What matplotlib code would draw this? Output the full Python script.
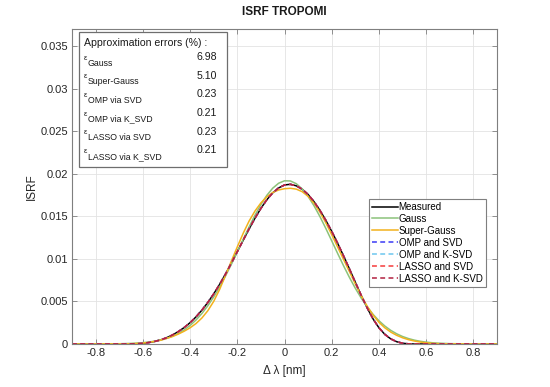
import numpy as np
import matplotlib
matplotlib.use('Agg')
import matplotlib.pyplot as plt
from matplotlib.patches import Rectangle

plt.rcParams['font.family'] = ['Liberation Sans', 'DejaVu Sans']
plt.rcParams['axes.unicode_minus'] = False

# wavelength offset grid [nm]: coarse in the far wings, 0.025 nm in the core
dlam = np.concatenate(([-0.9, -0.8, -0.7], np.linspace(-0.65, 0.65, 53), [0.7, 0.8, 0.9]))

# ISRF values in units of 1e-5
measured = [0, 0, 0,
            1, 3, 8, 17, 30, 48, 73, 105, 145, 193, 250, 318, 397, 487, 588,
            699, 821, 950, 1084, 1219, 1352, 1478, 1593, 1694, 1775, 1833, 1868,
            1876, 1858, 1818, 1756, 1672, 1570, 1453, 1323, 1183, 1035, 882,
            725, 570, 425, 295, 190, 113, 60, 27, 9, 2, 0, 0, 0, 0, 0,
            0, 0, 0]
gauss = [0.04, 0.4, 2.9,
         6.9, 10.5, 15.6, 23.0, 33.3, 47.4, 66.4, 91.5, 124.1, 165.7, 217.7,
         281.4, 358.0, 448.1, 552.1, 669.1, 798.2, 936.7, 1081.8, 1229.4,
         1374.8, 1512.8, 1638.1, 1745.5, 1830.0, 1888.2, 1917.0,
         1915.2, 1882.7, 1821.3, 1733.7, 1623.9, 1496.9, 1357.6, 1211.7,
         1064.2, 919.6, 782.0, 654.4, 538.9, 436.7, 348.2, 273.2, 210.9,
         160.2, 119.8, 88.1, 63.8, 45.4, 31.9, 22.0, 14.9, 10.0,
         4.2, 0.6, 0.1]
super_gauss = [0, 0, 1,
               3, 6, 11, 19, 30, 44, 64, 87, 116, 150, 190, 240, 305, 390, 500,
               640, 805, 975, 1140, 1300, 1444, 1562, 1657, 1729, 1779, 1809, 1824,
               1829, 1819, 1789, 1734, 1654, 1549, 1424, 1284, 1139, 994, 850,
               705, 568, 445, 340, 255, 190, 140, 102, 73, 51, 35, 23, 14, 8, 4,
               1, 0, 0]
omp_svd = [0, 0, 0,
           1, 3, 8, 17, 30, 48, 73, 105, 145, 193, 250, 318, 397, 487, 588,
           699, 821, 950, 1084, 1219, 1352, 1478, 1593, 1694, 1775, 1833, 1867,
           1875, 1858, 1818, 1756, 1672, 1570, 1453, 1323, 1183, 1035, 882,
           725, 570, 425, 295, 190, 113, 60, 27, 9, 2, 0, 0, 0, 0, 0,
           0, 0, 0]
omp_ksvd = [0, 0, 0,
            1, 3, 8, 17, 30, 48, 73, 105, 145, 193, 250, 318, 397, 487, 588,
            699, 821, 950, 1084, 1219, 1352, 1478, 1593, 1694, 1775, 1833, 1868,
            1876, 1858, 1818, 1756, 1672, 1570, 1453, 1323, 1183, 1035, 882,
            725, 570, 425, 295, 190, 113, 60, 27, 9, 2, 0, 0, 0, 0, 0,
            0, 0, 0]
lasso_svd = [0, 0, 0,
             1, 3, 8, 17, 30, 48, 73, 105, 145, 193, 250, 318, 397, 487, 588,
             699, 821, 950, 1084, 1219, 1352, 1478, 1593, 1694, 1775, 1833, 1867,
             1875, 1858, 1818, 1756, 1672, 1570, 1453, 1323, 1183, 1035, 882,
             725, 570, 425, 295, 190, 113, 60, 27, 9, 2, 0, 0, 0, 0, 0,
             0, 0, 0]
lasso_ksvd = [0, 0, 0,
              1, 3, 8, 17, 30, 48, 73, 105, 145, 193, 250, 318, 397, 487, 588,
              699, 821, 950, 1084, 1219, 1352, 1478, 1593, 1694, 1775, 1833, 1868,
              1876, 1858, 1818, 1756, 1672, 1570, 1453, 1323, 1183, 1035, 882,
              725, 570, 425, 295, 190, 113, 60, 27, 9, 2, 0, 0, 0, 0, 0,
              0, 0, 0]

err_names = ['Gauss', 'Super-Gauss', 'OMP via SVD', 'OMP via K_SVD',
             'LASSO via SVD', 'LASSO via K_SVD']
err_values = ['6.98', '5.10', '0.23', '0.21', '0.23', '0.21']

xticks = [-0.8, -0.6, -0.4, -0.2, 0, 0.2, 0.4, 0.6, 0.8]
xticklabels = ['-0.8', '-0.6', '-0.4', '-0.2', '0', '0.2', '0.4', '0.6', '0.8']
yticks = [0, 0.005, 0.01, 0.015, 0.02, 0.025, 0.03, 0.035]
yticklabels = ['0', '0.005', '0.01', '0.015', '0.02', '0.025', '0.03', '0.035']

series = [
    (measured, 'Measured', 'k', None),
    (gauss, 'Gauss', '#8cc27a', None),
    (super_gauss, 'Super-Gauss', '#f2b21c', None),
    (omp_svd, 'OMP and SVD', '#3a3af5', (3.2, 2.2)),
    (omp_ksvd, 'OMP and K-SVD', '#6cc6ef', (3.2, 2.2)),
    (lasso_svd, 'LASSO and SVD', '#f53a3a', (3.2, 2.2)),
    (lasso_ksvd, 'LASSO and K-SVD', '#b22040', (3.2, 2.2)),
]

W, H = 550, 387
fig = plt.figure(figsize=(W / 100, H / 100), dpi=100)
ax = fig.add_axes([72 / W, 1 - 344 / H, 425 / W, 315 / H])

for vals, lab, col, dash in series:
    line, = ax.plot(dlam, np.array(vals) * 1e-5, color=col, lw=1.1, label=lab)
    if dash:
        line.set_dashes(dash)

ax.set_xlim(-0.9, 0.9)
ax.set_ylim(0, 0.037)
ax.set_xticks(xticks)
ax.set_xticklabels(xticklabels)
ax.set_yticks(yticks)
ax.set_yticklabels(yticklabels)
ax.tick_params(direction='in', length=3.5, width=0.6, colors='#7f7f7f',
               labelcolor='#262626', labelsize=8, top=True, right=True, pad=3)
for s in ax.spines.values():
    s.set_color('#7f7f7f')
    s.set_linewidth(0.8)
ax.grid(True, color='#e3e3e3', lw=0.6)
ax.set_axisbelow(True)

ax.set_title('ISRF TROPOMI', fontsize=8.5, fontweight='bold', color='#1a1a1a', pad=10)
ax.set_xlabel('Δ λ [nm]', fontsize=8.5, color='#262626', labelpad=5)
ax.set_ylabel('ISRF', fontsize=8.5, color='#262626', labelpad=2)

leg = ax.legend(loc='lower right', bbox_to_anchor=(0.974, 0.181), borderaxespad=0,
                fontsize=7, handlelength=2.6, handletextpad=0.1, labelspacing=0.2,
                borderpad=0.35, fancybox=False, framealpha=1)
leg.get_frame().set_edgecolor('#7f7f7f')
leg.get_frame().set_linewidth(0.8)

# approximation error box (pixel layout converted to figure fractions)
fig.patches.append(Rectangle((79 / W, 1 - 167 / H), 148 / W, 135 / H,
                             transform=fig.transFigure, facecolor='white',
                             edgecolor='#6e6e6e', lw=0.9, zorder=5))
fig.text(84 / W, 1 - 43 / H, 'Approximation errors (%) :', fontsize=7.6,
         color='#1a1a1a', va='center', zorder=6)
for i, (name, val) in enumerate(zip(err_names, err_values)):
    yr = 63 + 18.7 * i
    fig.text(83.5 / W, 1 - (yr - 5) / H, 'ε', fontsize=5.5, color='#1a1a1a',
             va='center', zorder=6)
    fig.text(87.5 / W, 1 - yr / H, name, fontsize=6.3, color='#1a1a1a',
             va='center', zorder=6)
    fig.text(217 / W, 1 - (yr - 6) / H, val, fontsize=7.6, color='#1a1a1a',
             va='center', ha='right', zorder=6)

fig.savefig('out.png', dpi=100)
